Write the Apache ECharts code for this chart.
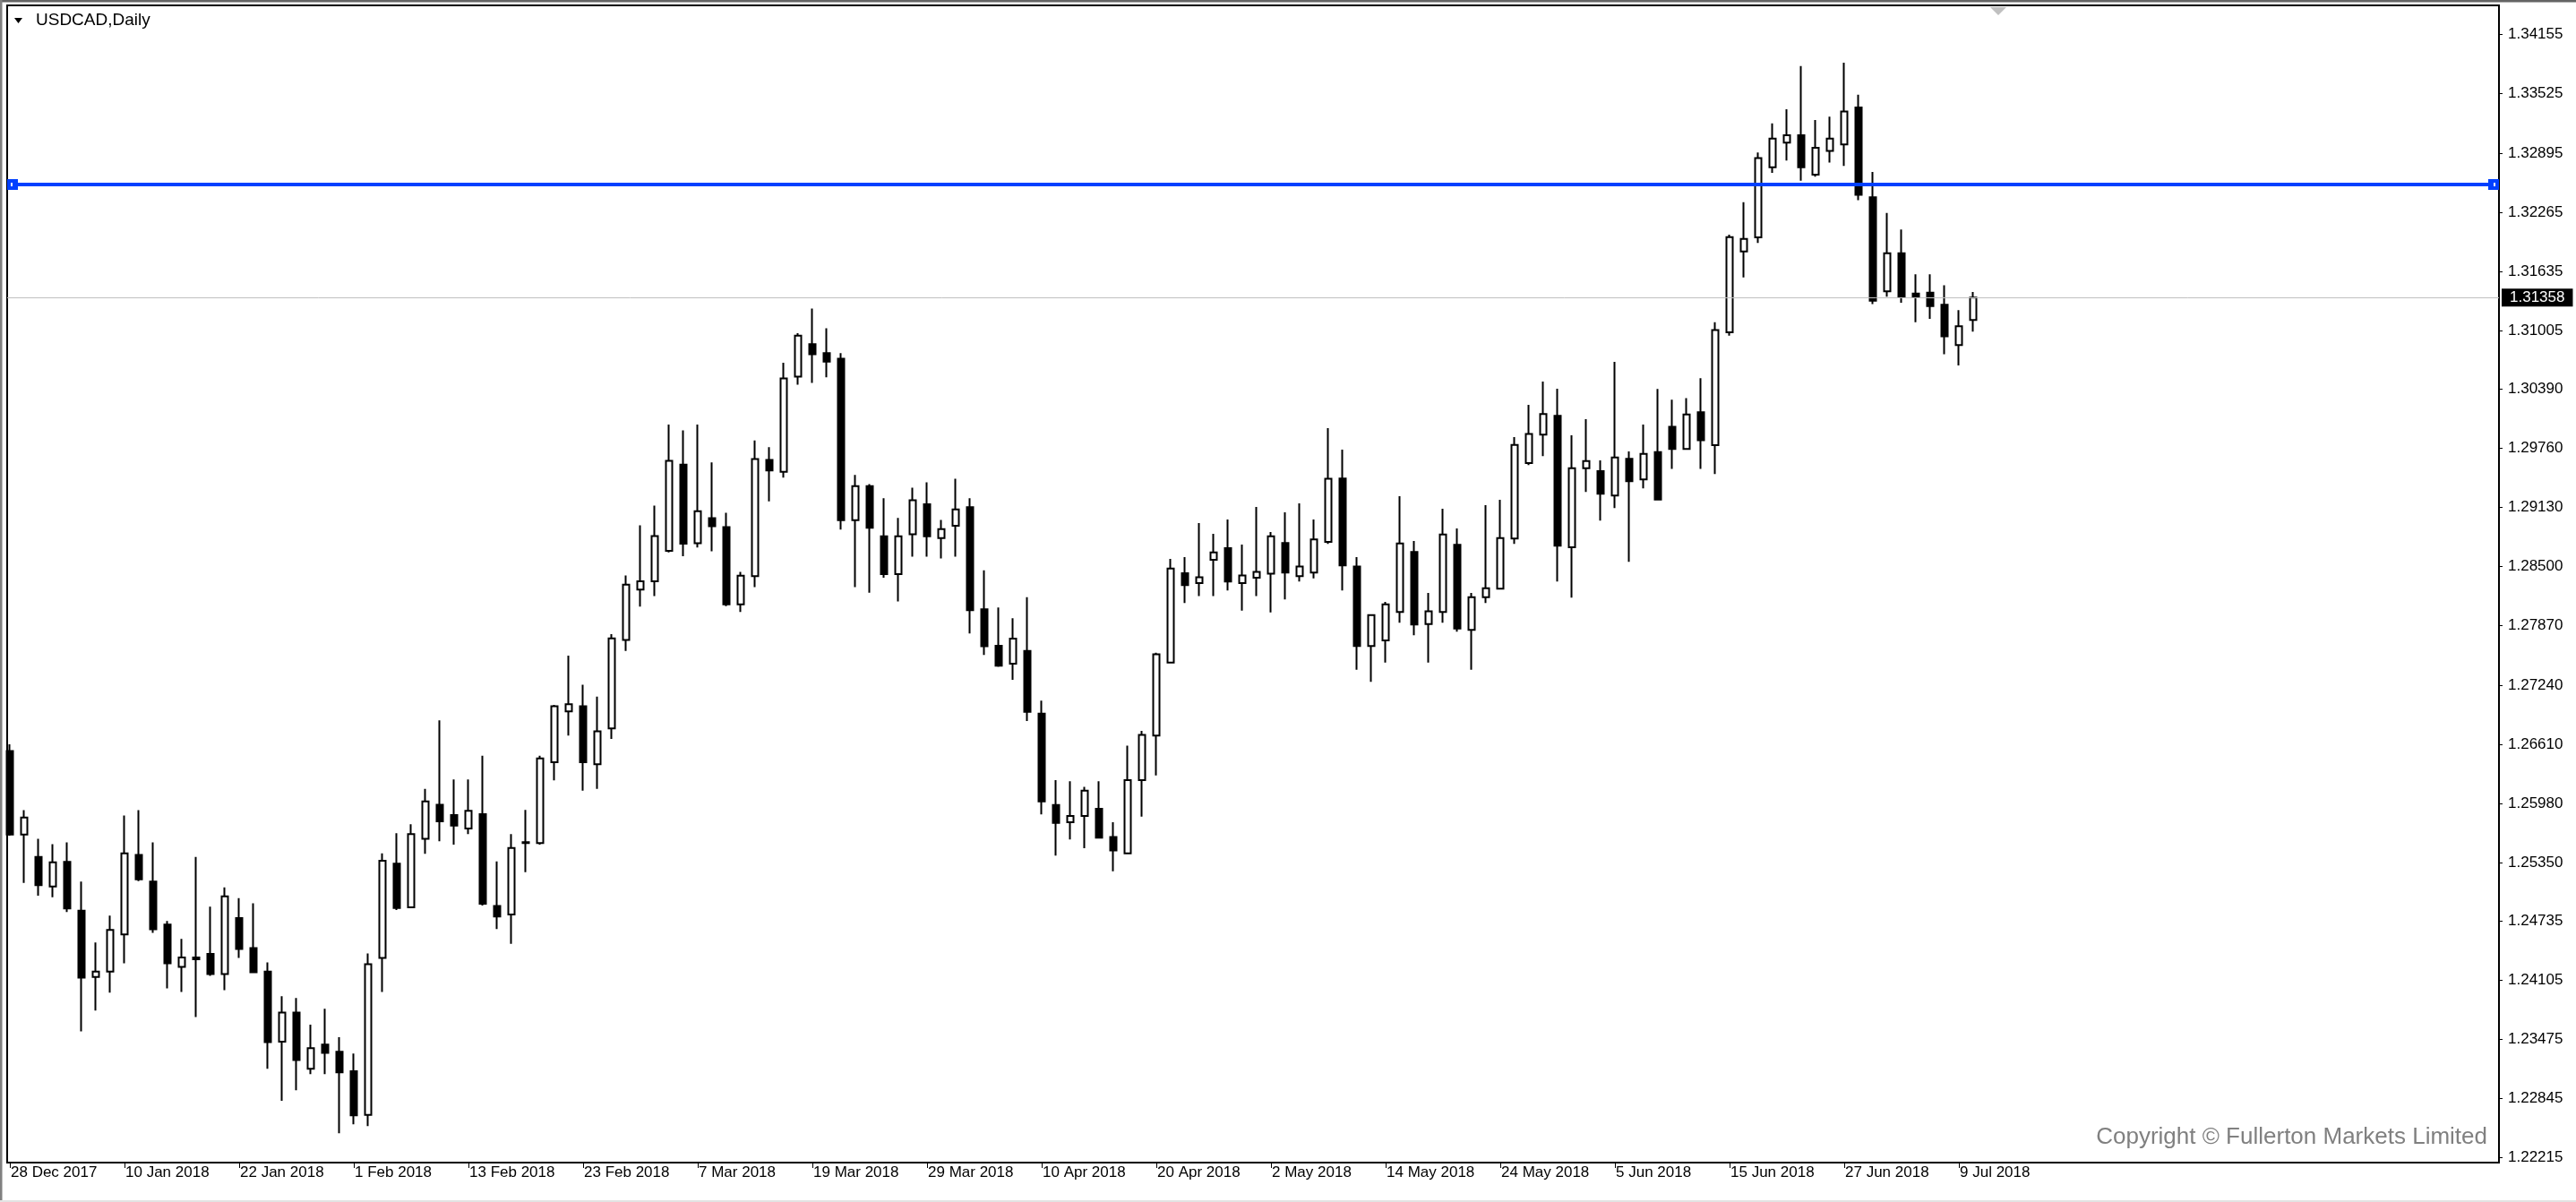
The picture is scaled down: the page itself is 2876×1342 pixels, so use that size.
<!DOCTYPE html>
<html>
<head>
<meta charset="utf-8">
<script src="https://cdn.jsdelivr.net/npm/echarts@6.0.0/dist/echarts.min.js"></script>
<style>
html,body{margin:0;padding:0;background:#fff;}
#chart{width:2876px;height:1342px;}
</style>
</head>
<body>
<div id="chart"></div>
<script>
// ---- data (daily USDCAD bars, 28 Dec 2017 .. 10 Jul 2018) ----
const opens = [
1.26538,1.25651,1.25414,1.25100,1.25360,1.24843,1.24137,1.24194,1.24590,1.25436,
1.25151,1.24694,1.24245,1.24346,1.24384,1.24168,1.24764,1.24444,1.24194,1.23450,
1.23760,1.23161,1.23418,1.23342,1.23136,1.22673,1.24340,1.25342,1.24879,1.25607,
1.25967,1.25859,1.25715,1.25868,1.24893,1.24803,1.25571,1.25562,1.26420,1.26960,
1.27014,1.26398,1.26780,1.27719,1.28254,1.28344,1.28667,1.29584,1.28748,1.29013,
1.28919,1.28097,1.28398,1.29633,1.29507,1.30518,1.30864,1.30768,1.30709,1.28992,
1.29355,1.28822,1.28420,1.28842,1.29162,1.28803,1.28933,1.29130,1.28045,1.27658,
1.27468,1.27603,1.26936,1.25965,1.25783,1.25850,1.25925,1.25625,1.25452,1.26229,
1.26703,1.27480,1.28429,1.28324,1.28572,1.28696,1.28324,1.28381,1.28423,1.28749,
1.28397,1.28435,1.28762,1.29435,1.28499,1.27655,1.27715,1.28016,1.28654,1.27889,
1.28016,1.28730,1.27826,1.28175,1.28264,1.28797,1.29600,1.29901,1.30101,1.28705,
1.29546,1.29514,1.29254,1.29644,1.29425,1.29717,1.29986,1.29749,1.30140,1.29789,
1.30989,1.31848,1.31999,1.32744,1.33005,1.33084,1.32665,1.32916,1.32987,1.33378,
1.32425,1.31426,1.31830,1.31401,1.31411,1.31282,1.30853,1.31121
];
const highs = [
1.26611,1.25911,1.25607,1.25550,1.25569,1.25151,1.24504,1.24789,1.25854,1.25911,
1.25569,1.24732,1.24542,1.25414,1.24885,1.25091,1.24976,1.24920,1.24292,1.23934,
1.23915,1.23630,1.23801,1.23497,1.23323,1.24387,1.25452,1.25666,1.25760,1.26138,
1.26865,1.26236,1.26236,1.26488,1.25365,1.25657,1.25913,1.26488,1.27030,1.27553,
1.27243,1.27117,1.27782,1.28406,1.28937,1.29148,1.30010,1.29947,1.30010,1.29606,
1.29071,1.28442,1.29840,1.29768,1.30666,1.30981,1.31241,1.31033,1.30768,1.29474,
1.29375,1.29225,1.29016,1.29339,1.29395,1.28996,1.29434,1.29225,1.28459,1.28065,
1.27950,1.28175,1.27074,1.26229,1.26217,1.26158,1.26217,1.25783,1.26596,1.26754,
1.27583,1.28580,1.28600,1.28962,1.28848,1.29000,1.28734,1.29133,1.28867,1.29076,
1.29171,1.29000,1.29971,1.29743,1.28600,1.27991,1.28124,1.29248,1.28772,1.28219,
1.29114,1.28905,1.28219,1.29152,1.29209,1.29876,1.30219,1.30466,1.30390,1.29895,
1.30066,1.29628,1.30675,1.29724,1.30009,1.30387,1.30272,1.30290,1.30501,1.31096,
1.32027,1.32371,1.32901,1.33209,1.33360,1.33818,1.33245,1.33281,1.33854,1.33514,
1.32694,1.32257,1.32081,1.31605,1.31605,1.31490,1.31225,1.31418
];
const lows = [
1.25640,1.25138,1.25002,1.24986,1.24828,1.23560,1.23782,1.23972,1.24283,1.25157,
1.24606,1.24016,1.23979,1.23712,1.24149,1.23998,1.24340,1.24188,1.23161,1.22822,
1.22933,1.23104,1.23104,1.22477,1.22572,1.22553,1.23979,1.24850,1.24870,1.25446,
1.25580,1.25544,1.25657,1.24897,1.24646,1.24489,1.25252,1.25544,1.26227,1.26704,
1.26119,1.26137,1.26668,1.27602,1.28074,1.28186,1.28650,1.28609,1.28703,1.28662,
1.28080,1.28016,1.28281,1.29193,1.29444,1.30433,1.30451,1.30512,1.28893,1.28282,
1.28222,1.28380,1.28128,1.28605,1.28605,1.28586,1.28605,1.27788,1.27559,1.27433,
1.27295,1.26857,1.25866,1.25428,1.25598,1.25507,1.25610,1.25262,1.25445,1.25842,
1.26280,1.27472,1.28112,1.28185,1.28185,1.28245,1.28032,1.28185,1.28013,1.28150,
1.28340,1.28375,1.28740,1.28245,1.27404,1.27274,1.27480,1.27902,1.27769,1.27480,
1.27902,1.27807,1.27404,1.28112,1.28260,1.28740,1.29578,1.29673,1.28340,1.28169,
1.29292,1.28987,1.29121,1.28549,1.29330,1.29210,1.29538,1.29745,1.29538,1.29484,
1.30953,1.31572,1.31938,1.32683,1.32815,1.32600,1.32643,1.32794,1.32758,1.32393,
1.31289,1.31368,1.31304,1.31096,1.31132,1.30756,1.30638,1.30996
];
const closes = [
1.25651,1.25832,1.25113,1.25357,1.24866,1.24131,1.24194,1.24637,1.25452,1.25176,
1.24644,1.24283,1.24346,1.24327,1.24168,1.24995,1.24435,1.24188,1.23446,1.23760,
1.23256,1.23380,1.23332,1.23123,1.22667,1.24273,1.25372,1.24870,1.25657,1.26003,
1.25792,1.25747,1.25904,1.24915,1.24781,1.25508,1.25562,1.26461,1.27014,1.27036,
1.26420,1.26749,1.27737,1.28307,1.28344,1.28824,1.29624,1.28743,1.29089,1.28928,
1.28097,1.28402,1.29642,1.29521,1.30500,1.30954,1.30756,1.30677,1.28992,1.29355,
1.28913,1.28420,1.28822,1.29205,1.28822,1.28897,1.29107,1.28037,1.27654,1.27445,
1.27733,1.26955,1.26004,1.25775,1.25850,1.26119,1.25617,1.25483,1.26229,1.26711,
1.27567,1.28479,1.28302,1.28385,1.28651,1.28340,1.28404,1.28442,1.28822,1.28435,
1.28499,1.28787,1.29432,1.28511,1.27655,1.27984,1.28099,1.28746,1.27883,1.28023,
1.28841,1.27842,1.28175,1.28270,1.28803,1.29793,1.29908,1.30120,1.28721,1.29546,
1.29622,1.29273,1.29660,1.29406,1.29698,1.29212,1.29749,1.30115,1.29842,1.31014,
1.32002,1.31981,1.32840,1.33048,1.33084,1.32744,1.32951,1.33048,1.33335,1.32450,
1.31325,1.31830,1.31365,1.31365,1.31268,1.30946,1.31053,1.31358
];
const dateLabels = ['28 Dec 2017','10 Jan 2018','22 Jan 2018','1 Feb 2018','13 Feb 2018','23 Feb 2018',
  '7 Mar 2018','19 Mar 2018','29 Mar 2018','10 Apr 2018','20 Apr 2018','2 May 2018','14 May 2018',
  '24 May 2018','5 Jun 2018','15 Jun 2018','27 Jun 2018','9 Jul 2018'];
const barsPerDateLabel = 8;
const priceTicks = ['1.34155','1.33525','1.32895','1.32265','1.31635','1.31005','1.30390','1.29760',
  '1.29130','1.28500','1.27870','1.27240','1.26610','1.25980','1.25350','1.24735','1.24105',
  '1.23475','1.22845','1.22215'];
const horizontalLevel = 1.32560;   // blue horizontal line
const symbolName = 'USDCAD,Daily';
const copyrightText = 'Copyright \u00A9 Fullerton Markets Limited';

// ---- build ----
const FONT = '"Liberation Sans", Arial, sans-serif';
const candleData = opens.map((o, i) => [i, o, closes[i], lows[i], highs[i]]);
const dateTickIdx = dateLabels.map((_, k) => k * barsPerDateLabel);
const priceTickVals = priceTicks.map(Number);
const bid = closes[closes.length - 1];

// layout
const W = 2876, H = 1342;
const gridL = 8, gridT = 6, gridR = 86, gridB = 44;
const barStep = 16, firstBarX = 11;
const plotW = W - gridL - gridR;
const xMin = -(firstBarX - gridL) / barStep;
const xMax = xMin + plotW / barStep;
const yTopPrice = 1.34464, yBottomPrice = 1.22165;
const sq = 'path://M0,0L12,0L12,12L0,12Z M4,4L4,8L8,8L8,4Z';

const chart = echarts.init(document.getElementById('chart'), null, {renderer: 'canvas', width: W, height: H});
chart.setOption({
  animation: false,
  backgroundColor: '#ffffff',
  grid: {left: gridL, top: gridT, right: gridR, bottom: gridB, show: true,
    borderColor: '#000', borderWidth: 2, backgroundColor: '#fff'},
  xAxis: {
    type: 'value', min: xMin, max: xMax, position: 'bottom',
    axisLine: {show: false, onZero: false}, splitLine: {show: false},
    axisTick: {show: true, customValues: dateTickIdx, length: 6, lineStyle: {color: '#000', width: 1}},
    axisLabel: {customValues: dateTickIdx, formatter: v => dateLabels[Math.round(v / barsPerDateLabel)],
      align: 'left', margin: 3, color: '#000', fontSize: 17, fontFamily: FONT, padding: [0, 0, 0, 1]}
  },
  yAxis: {
    type: 'value', position: 'right', min: yBottomPrice, max: yTopPrice, scale: true,
    axisLine: {show: false, onZero: false}, splitLine: {show: false},
    axisTick: {show: true, customValues: priceTickVals, length: 4, lineStyle: {color: '#000', width: 1}},
    axisLabel: {customValues: priceTickVals, formatter: v => v.toFixed(5),
      margin: 10, color: '#000', fontSize: 17, fontFamily: FONT}
  },
  series: [{
    type: 'candlestick',
    data: candleData,
    encode: {x: 0, y: [1, 2, 3, 4]},
    barWidth: 7,
    clip: true,
    itemStyle: {color: '#ffffff', color0: '#000000', borderColor: '#000000', borderColor0: '#000000',
      borderColorDoji: '#000000', borderWidth: 2},
    emphasis: {disabled: true},
    markLine: {
      silent: true, animation: false, symbol: 'none', precision: 5,
      data: [
        {yAxis: bid, symbol: 'none',
          lineStyle: {color: '#c0c0c0', width: 1, type: 'solid'},
          label: {show: true, position: 'end', formatter: bid.toFixed(5), color: '#fff',
            backgroundColor: '#000', padding: [2, 9, 1, 9], distance: 3,
            fontSize: 17, fontFamily: FONT}},
        [
          {coord: [xMin + 6 / barStep, horizontalLevel], symbol: sq, symbolSize: 12,
            lineStyle: {color: '#0040ff', width: 4, type: 'solid'}, label: {show: false}},
          {coord: [xMax - 6 / barStep, horizontalLevel], symbol: sq, symbolSize: 12}
        ]
      ]
    }
  }],
  graphic: [
    {type: 'rect', shape: {x: 0, y: 0, width: W, height: 2.5}, style: {fill: '#646464'}, silent: true},
    {type: 'rect', shape: {x: 0, y: 0, width: 2.5, height: H}, style: {fill: '#808080'}, silent: true},
    {type: 'rect', shape: {x: 0, y: H - 2, width: W, height: 2}, style: {fill: '#e3e3e3'}, silent: true},
    {type: 'polygon', shape: {points: [[16, 20], [25, 20], [20.5, 26]]}, style: {fill: '#000'}, silent: true},
    {type: 'text', x: 40, y: 23, style: {text: symbolName, fill: '#000', font: '19px ' + FONT,
      textVerticalAlign: 'middle', verticalAlign: 'middle'}, silent: true},
    {type: 'polygon', shape: {points: [[2222, 8], [2240, 8], [2231, 17]]}, style: {fill: '#c0c0c0'}, silent: true},
    {type: 'text', x: 2777, y: 1270, style: {text: copyrightText, fill: '#808080', font: '26px ' + FONT,
      align: 'right', textAlign: 'right', verticalAlign: 'middle', textVerticalAlign: 'middle'}, silent: true}
  ]
});
</script>
</body>
</html>
